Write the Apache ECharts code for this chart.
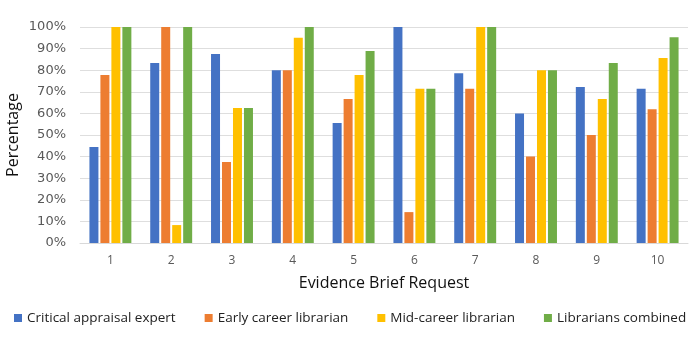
<!DOCTYPE html>
<html><head><meta charset="utf-8">
<script src="https://cdn.jsdelivr.net/npm/echarts@6/dist/echarts.min.js"></script>
<style>html,body{margin:0;padding:0;background:#fff}#c{width:700px;height:338px}</style>
</head><body><div id="c"></div>
<script>
const categories = ['1','2','3','4','5','6','7','8','9','10'];
const criticalExpert = [44.4, 83.3, 87.5, 80, 55.6, 100, 78.6, 60, 72.2, 71.4];
const earlyCareer = [77.8, 100, 37.5, 80, 66.7, 14.3, 71.4, 40, 50, 61.9];
const midCareer = [100, 8.3, 62.5, 95, 77.8, 71.4, 100, 80, 66.7, 85.7];
const combined = [100, 100, 62.5, 100, 88.9, 71.4, 100, 80, 83.3, 95.2];
const seriesNames = ['Critical appraisal expert','Early career librarian','Mid-career librarian','Librarians combined'];
const colors = ['#4472C4','#ED7D31','#FFC000','#70AD47'];

const chart = echarts.init(document.getElementById('c'));
const font = '"Open Sans", "Noto Sans", sans-serif';
const data = [criticalExpert, earlyCareer, midCareer, combined];
chart.setOption({
  animation: false,
  textStyle: {fontFamily: font},
  grid: {left: 80, right: 12, top: 27, bottom: 95, containLabel: false, outerBoundsMode: 'none'},
  legend: {
    top: 311, left: 14, width: 690, itemWidth: 8, itemHeight: 8, itemGap: 29,
    icon: 'rect', padding: 0,
    textStyle: {fontSize: 13.5, color: '#222', fontFamily: font},
    data: seriesNames
  },
  xAxis: {
    type: 'category', data: categories,
    name: 'Evidence Brief Request', nameLocation: 'middle', nameGap: 32,
    nameTextStyle: {fontSize: 16, color: '#111', fontFamily: font},
    axisLine: {lineStyle: {color: '#d9d9d9'}},
    axisTick: {show: false},
    axisLabel: {fontSize: 12, color: '#595959', margin: 12}
  },
  yAxis: {
    type: 'value', min: 0, max: 100, interval: 10,
    name: 'Percentage', nameLocation: 'middle', nameGap: 26, nameMoveOverlap: false,
    nameTextStyle: {fontSize: 16, color: '#111', fontFamily: font, padding: [0, 0, 33, 0]},
    axisLine: {show: false}, axisTick: {show: false},
    splitLine: {lineStyle: {color: '#dedede', width: 1}},
    axisLabel: {fontSize: 13, color: '#595959', margin: 14, fontFamily: '"DejaVu Sans", sans-serif', formatter: v => v + '%'}
  },
  series: data.map((d, i) => ({
    name: seriesNames[i], type: 'bar', data: d,
    barWidth: 9, barGap: '22%',
    itemStyle: {color: colors[i]}
  }))
});
</script></body></html>
